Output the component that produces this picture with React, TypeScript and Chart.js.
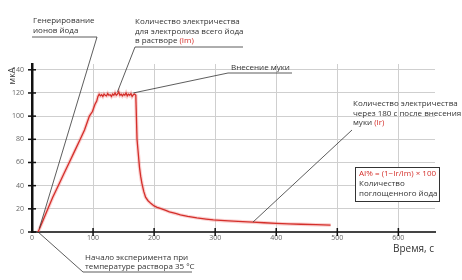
import React, { useEffect, useRef } from "react";
import { Chart, registerables } from "chart.js";

Chart.register(...registerables);

// Time, s
const timeSeconds = [
  10, 18, 26, 34, 43, 52, 61, 70, 79, 86, 94, 99, 103, 106, 108,
  110, 112, 114, 116, 118, 120, 122, 124, 126, 128, 130, 132, 134, 136, 138,
  140, 142, 144, 146, 148, 150, 152, 154, 156, 158, 160, 162, 164, 166, 168,
  170, 172, 174, 176, 178, 180, 183, 186, 190, 195, 200, 205, 210, 218, 225,
  235, 243, 255, 270, 285, 297, 315, 330, 345, 362, 380, 400, 420, 440, 465, 489,
];
// Current, µA
const currentMicroA = [
  0, 10, 20, 30, 40, 50, 60, 70, 80, 88, 100, 104, 110, 113, 117,
  119, 117.5, 118.5, 117, 119, 118, 117.5, 119.5, 118, 118.5, 117, 119, 118, 120, 118,
  119, 121, 118, 119, 117.5, 119, 118, 120, 117.5, 119, 118, 119.5, 117, 118.5, 119,
  118, 80, 68, 56, 48, 42, 35, 30, 27, 24.5, 22.5, 21.3, 20.3, 18.8, 17.4,
  16, 14.8, 13.5, 12.2, 11.2, 10.4, 9.8, 9.3, 8.9, 8.5, 8, 7.4, 7, 6.7, 6.3, 6,
];

const xTickValues = [0, 100, 200, 300, 400, 500, 600];
const yTickValues = [0, 20, 40, 60, 80, 100, 120, 140];
const xMax = 660;
const yMax = 145;

const FONT = '"Open Sans", "DejaVu Sans", sans-serif';
const RED = "#d42f2a";
const TEXT = "#333";

type Part = [string, string];

const annotationPlugin = {
  id: "annotations",
  afterDraw(chart: any) {
    const { ctx, chartArea } = chart;
    const xs = chart.scales.x;
    const ys = chart.scales.y;
    const px = (v: number) => xs.getPixelForValue(v);
    const py = (v: number) => ys.getPixelForValue(v);

    const line = (pts: number[][]) => {
      ctx.beginPath();
      ctx.moveTo(pts[0][0], pts[0][1]);
      for (let i = 1; i < pts.length; i++) ctx.lineTo(pts[i][0], pts[i][1]);
      ctx.stroke();
    };
    const rich = (parts: Part[], x: number, y: number) => {
      let cx = x;
      for (const [t, c] of parts) {
        ctx.fillStyle = c;
        ctx.fillText(t, cx, y);
        cx += ctx.measureText(t).width;
      }
    };

    ctx.save();
    // axis tick marks crossing the axes
    ctx.strokeStyle = "#111";
    ctx.lineWidth = 1.5;
    yTickValues.forEach((v) => {
      const yy = py(v);
      line([[chartArea.left - 4, yy], [chartArea.left + 4, yy]]);
    });
    xTickValues.forEach((v) => {
      if (v === 0) return;
      const xx = px(v);
      line([[xx, chartArea.bottom - 4], [xx, chartArea.bottom + 4]]);
    });

    // leader lines
    ctx.strokeStyle = "#333";
    ctx.lineWidth = 0.8;
    line([[32, 37], [97, 37], [px(12), py(3)]]);
    line([[135, 47], [243, 47]]);
    line([[135, 47], [px(140), py(121)]]);
    line([[292, 73], [228, 73], [px(166), py(120)]]);
    line([[352, 130], [px(362), py(8.6)]]);
    line([[px(10), py(0)], [83, 272], [192, 272]]);

    // texts
    ctx.font = `8px ${FONT}`;
    ctx.textBaseline = "middle";
    ctx.textAlign = "left";
    rich([["Генерирование", TEXT]], 33, 21);
    rich([["ионов йода", TEXT]], 33, 31);

    rich([["Количество электричества", TEXT]], 135, 22);
    rich([["для электролиза всего йода", TEXT]], 135, 32);
    rich([["в растворе ", TEXT], ["(Im)", RED]], 135, 41);

    rich([["Внесение муки", TEXT]], 231, 68);

    rich([["Количество электричества", TEXT]], 353, 104);
    rich([["через 180 с после внесения", TEXT]], 353, 114);
    rich([["муки ", TEXT], ["(Ir)", RED]], 353, 123);

    rich([["Начало эксперимента при", TEXT]], 85, 258);
    rich([["температуре раствора 35 °С", TEXT]], 85, 267);

    // formula box
    ctx.fillStyle = "#fff";
    ctx.fillRect(355, 167, 84, 34);
    ctx.strokeStyle = "#333";
    ctx.lineWidth = 1;
    ctx.strokeRect(355.5, 167.5, 84, 34);
    rich([["AI% = (1−Ir/Im) × 100", RED]], 359, 174);
    rich([["Количество", TEXT]], 359, 184);
    rich([["поглощенного йода", TEXT]], 359, 194);

    // axis titles
    ctx.font = `10px ${FONT}`;
    ctx.fillStyle = TEXT;
    ctx.fillText("Время, с", 393, 249);
    ctx.save();
    ctx.translate(12, 76);
    ctx.rotate(-Math.PI / 2);
    ctx.textAlign = "center";
    ctx.font = `9px ${FONT}`;
    ctx.fillText("мкА", 0, 0);
    ctx.restore();

    ctx.restore();
  },
};

export default function App() {
  const ref = useRef<HTMLCanvasElement | null>(null);

  useEffect(() => {
    if (!ref.current) return;
    const points = timeSeconds.map((t, i) => ({ x: t, y: currentMicroA[i] }));
    const chart = new Chart(ref.current, {
      type: "line",
      data: {
        datasets: [
          {
            data: points,
            borderColor: RED,
            borderWidth: 1.3,
            pointRadius: 0,
            tension: 0,
            order: 1,
          },
          {
            data: points,
            borderColor: "rgba(240,120,120,0.35)",
            borderWidth: 3.5,
            pointRadius: 0,
            tension: 0,
            order: 2,
          },
        ],
      },
      options: {
        animation: false,
        responsive: true,
        maintainAspectRatio: false,
        layout: { padding: { top: 64, right: 27, left: 0, bottom: 0 } },
        plugins: {
          legend: { display: false },
          tooltip: { enabled: false },
        },
        scales: {
          x: {
            type: "linear",
            min: 0,
            max: xMax,
            afterBuildTicks: (s: any) => {
              s.ticks = xTickValues.map((v) => ({ value: v }));
            },
            afterFit: (s: any) => {
              s.height = 48;
            },
            ticks: {
              stepSize: 100,
              padding: 2,
              color: "#666",
              font: { family: FONT, size: 7 },
            },
            grid: { color: "#cfcfcf", lineWidth: 1, drawTicks: false },
            border: { color: "#444", width: 2 },
          },
          y: {
            type: "linear",
            min: 0,
            max: yMax,
            afterBuildTicks: (s: any) => {
              s.ticks = yTickValues.map((v) => ({ value: v }));
            },
            afterFit: (s: any) => {
              s.width = 32;
            },
            ticks: {
              stepSize: 20,
              padding: 8,
              color: "#666",
              font: { family: FONT, size: 7 },
            },
            grid: { color: "#cfcfcf", lineWidth: 1, drawTicks: false },
            border: { color: "#111", width: 2.5 },
          },
        },
      },
      plugins: [annotationPlugin],
    });
    return () => chart.destroy();
  }, []);

  return (
    <div style={{ position: "fixed", left: 0, top: 0, width: 462, height: 280, background: "#fff" }}>
      <canvas ref={ref} />
    </div>
  );
}
